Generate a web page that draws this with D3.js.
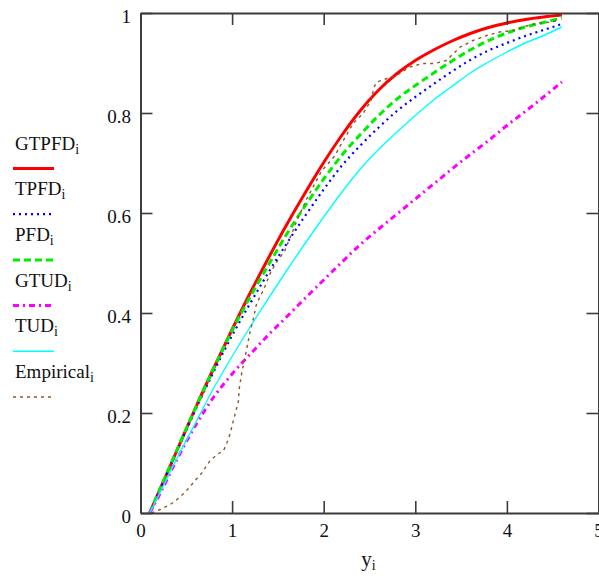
<!DOCTYPE html>
<html>
<head>
<meta charset="utf-8">
<script src="https://cdn.jsdelivr.net/npm/d3@7"></script>
<style>
  html, body { margin: 0; padding: 0; background: #fff; }
  svg { display: block; }
</style>
</head>
<body>
<svg id="chart" width="599" height="579"></svg>
<script>
// Sample points y_i at which the fitted CDFs are tabulated
const yGrid = [0.1, 0.2, 0.4, 0.6, 0.8, 1.0, 1.2, 1.4, 1.6, 1.8, 2.0, 2.2,
               2.4, 2.6, 2.8, 3.0, 3.2, 3.4, 3.6, 3.8, 4.0, 4.2, 4.4, 4.6];

// Fitted distribution functions at yGrid
const GTPFD = [0, 0.042, 0.126, 0.210, 0.290, 0.367, 0.441, 0.511, 0.578, 0.641, 0.701, 0.756,
               0.805, 0.846, 0.879, 0.905, 0.926, 0.944, 0.959, 0.971, 0.980, 0.987, 0.992, 0.996];
const TPFD  = [0, 0.042, 0.125, 0.206, 0.283, 0.355, 0.420, 0.482, 0.540, 0.595, 0.647, 0.695,
               0.735, 0.771, 0.804, 0.832, 0.858, 0.883, 0.906, 0.925, 0.940, 0.954, 0.966, 0.978];
const PFD   = [0, 0.043, 0.127, 0.210, 0.290, 0.365, 0.433, 0.497, 0.559, 0.615, 0.668, 0.716,
               0.757, 0.795, 0.828, 0.855, 0.880, 0.904, 0.926, 0.945, 0.960, 0.972, 0.981, 0.990];
const GTUD  = [0, 0.034, 0.108, 0.175, 0.232, 0.278, 0.318, 0.357, 0.393, 0.430, 0.466, 0.502,
               0.537, 0.568, 0.598, 0.628, 0.658, 0.688, 0.717, 0.745, 0.775, 0.803, 0.832, 0.862];
const TUD   = [0, 0.036, 0.110, 0.180, 0.250, 0.313, 0.373, 0.430, 0.486, 0.540, 0.592, 0.642,
               0.688, 0.727, 0.762, 0.795, 0.826, 0.853, 0.880, 0.902, 0.922, 0.940, 0.955, 0.972];

// Empirical distribution function
const empiricalY = [0.12, 0.215, 0.342, 0.433, 0.524, 0.596, 0.669, 0.76, 0.851, 0.905, 0.942, 0.978,
                    1.014, 1.043, 1.068, 1.079, 1.105, 1.141, 1.166, 1.196, 1.232, 1.268, 1.34, 1.43,
                    1.487, 1.577, 1.613, 1.72, 1.814, 1.904, 1.977, 2.12, 2.195, 2.32, 2.43, 2.52,
                    2.545, 2.58, 2.69, 2.795, 2.94, 3.08, 3.21, 3.34, 3.49, 3.63, 3.78, 3.92,
                    4.07, 4.17, 4.32, 4.47, 4.57];
const empiricalF = [0, 0.007, 0.019, 0.032, 0.049, 0.065, 0.080, 0.105, 0.119, 0.124, 0.140, 0.158,
                    0.185, 0.205, 0.222, 0.250, 0.280, 0.310, 0.335, 0.362, 0.389, 0.419, 0.445, 0.485,
                    0.502, 0.525, 0.542, 0.590, 0.628, 0.659, 0.684, 0.714, 0.739, 0.779, 0.799, 0.826,
                    0.850, 0.862, 0.869, 0.875, 0.892, 0.899, 0.899, 0.905, 0.932, 0.945, 0.955, 0.962,
                    0.965, 0.972, 0.979, 0.982, 0.985];

const seriesNames = ["GTPFD", "TPFD", "PFD", "GTUD", "TUD", "Empirical"];
const xTickValues = [0, 1, 2, 3, 4, 5];
const xTickLabels = ["0", "1", "2", "3", "4", "5"];
const yTickValues = [0, 0.2, 0.4, 0.6, 0.8, 1];
const yTickLabels = ["0", "0.2", "0.4", "0.6", "0.8", "1"];

const seriesData = {
  GTPFD: yGrid.map((v, i) => [v, GTPFD[i]]),
  TPFD:  yGrid.map((v, i) => [v, TPFD[i]]),
  PFD:   yGrid.map((v, i) => [v, PFD[i]]),
  GTUD:  yGrid.map((v, i) => [v, GTUD[i]]),
  TUD:   yGrid.map((v, i) => [v, TUD[i]]),
  Empirical: empiricalY.map((v, i) => [v, empiricalF[i]])
};

const styles = {
  GTPFD:     { color: "#ff0000", width: 3,   dash: null },
  TPFD:      { color: "#0000ff", width: 2.2, dash: "2,4" },
  PFD:       { color: "#00ee00", width: 3,   dash: "7,4" },
  GTUD:      { color: "#ff00ff", width: 3,   dash: "6,4,2,4" },
  TUD:       { color: "#00ffff", width: 1.4, dash: null },
  Empirical: { color: "#8b5a2b", width: 1.4, dash: "3,4" }
};

const FONT = "'Liberation Serif', 'Times New Roman', serif";
const AXIS_COLOR = "#3c3c3c";

const svg = d3.select("#chart");
svg.append("rect").attr("width", 599).attr("height", 579).attr("fill", "#fff");

const x = d3.scaleLinear().domain([0, 5]).range([140.5, 598.5]);
const y = d3.scaleLinear().domain([0, 1]).range([513, 13]);

// Curves
const line = d3.line()
  .x(d => x(d[0]))
  .y(d => y(d[1]));

seriesNames.forEach(name => {
  const s = styles[name];
  const gen = name === "Empirical" ? line.curve(d3.curveLinear) : line.curve(d3.curveMonotoneX);
  svg.append("path")
    .datum(seriesData[name])
    .attr("fill", "none")
    .attr("stroke", s.color)
    .attr("stroke-width", s.width)
    .attr("stroke-dasharray", s.dash)
    .attr("d", gen);
});

// Axes: ticks point inward on all four sides
function styleAxis(g) {
  g.attr("font-family", null).attr("font-size", null);
  g.select(".domain").attr("stroke", AXIS_COLOR).attr("stroke-width", 2);
  g.selectAll(".tick line").attr("stroke", AXIS_COLOR).attr("stroke-width", 1.6);
  g.selectAll(".tick text").attr("fill", "#111")
    .style("font-family", FONT).style("font-size", "19px");
}

svg.append("g")
  .attr("transform", `translate(0,${y(0)})`)
  .call(d3.axisBottom(x).tickValues(xTickValues)
    .tickFormat((d, i) => xTickLabels[i]).tickSize(-12).tickSizeOuter(0).tickPadding(11))
  .call(styleAxis);

svg.append("g")
  .attr("transform", `translate(${x(0)},0)`)
  .call(d3.axisLeft(y).tickValues(yTickValues)
    .tickFormat((d, i) => yTickLabels[i]).tickSize(-12).tickSizeOuter(0).tickPadding(9.5))
  .call(styleAxis)
  .call(g => g.selectAll(".tick text").attr("dy", "0.5em"));

svg.append("g")
  .attr("transform", `translate(0,${y(1)})`)
  .call(d3.axisTop(x).tickValues(xTickValues).tickFormat("").tickSize(-12).tickSizeOuter(0))
  .call(styleAxis);

svg.append("g")
  .attr("transform", `translate(${x(5)},0)`)
  .call(d3.axisRight(y).tickValues(yTickValues).tickFormat("").tickSize(-12).tickSizeOuter(0))
  .call(styleAxis);

// Axis title y_i
const title = svg.append("text")
  .attr("x", x(2.5) - 1)
  .attr("y", 566)
  .attr("text-anchor", "middle")
  .style("font-family", FONT)
  .style("font-size", "21px")
  .attr("fill", "#111");
title.append("tspan").text("y");
title.append("tspan").attr("dy", 4).style("font-size", "14px").text("i");

// Legend
const legend = svg.append("g");
seriesNames.forEach((name, i) => {
  const base = 149.5 + i * 45.7;
  const s = styles[name];
  const t = legend.append("text")
    .attr("x", 15)
    .attr("y", base)
    .style("font-family", FONT)
    .style("font-size", "19px")
    .attr("fill", "#111");
  t.append("tspan").text(name);
  t.append("tspan").attr("dy", 4).style("font-size", "14px").text("i");
  legend.append("line")
    .attr("x1", 13).attr("x2", 54)
    .attr("y1", base + 19).attr("y2", base + 19)
    .attr("stroke", s.color)
    .attr("stroke-width", s.width)
    .attr("stroke-dasharray", s.dash);
});
</script>
</body>
</html>
